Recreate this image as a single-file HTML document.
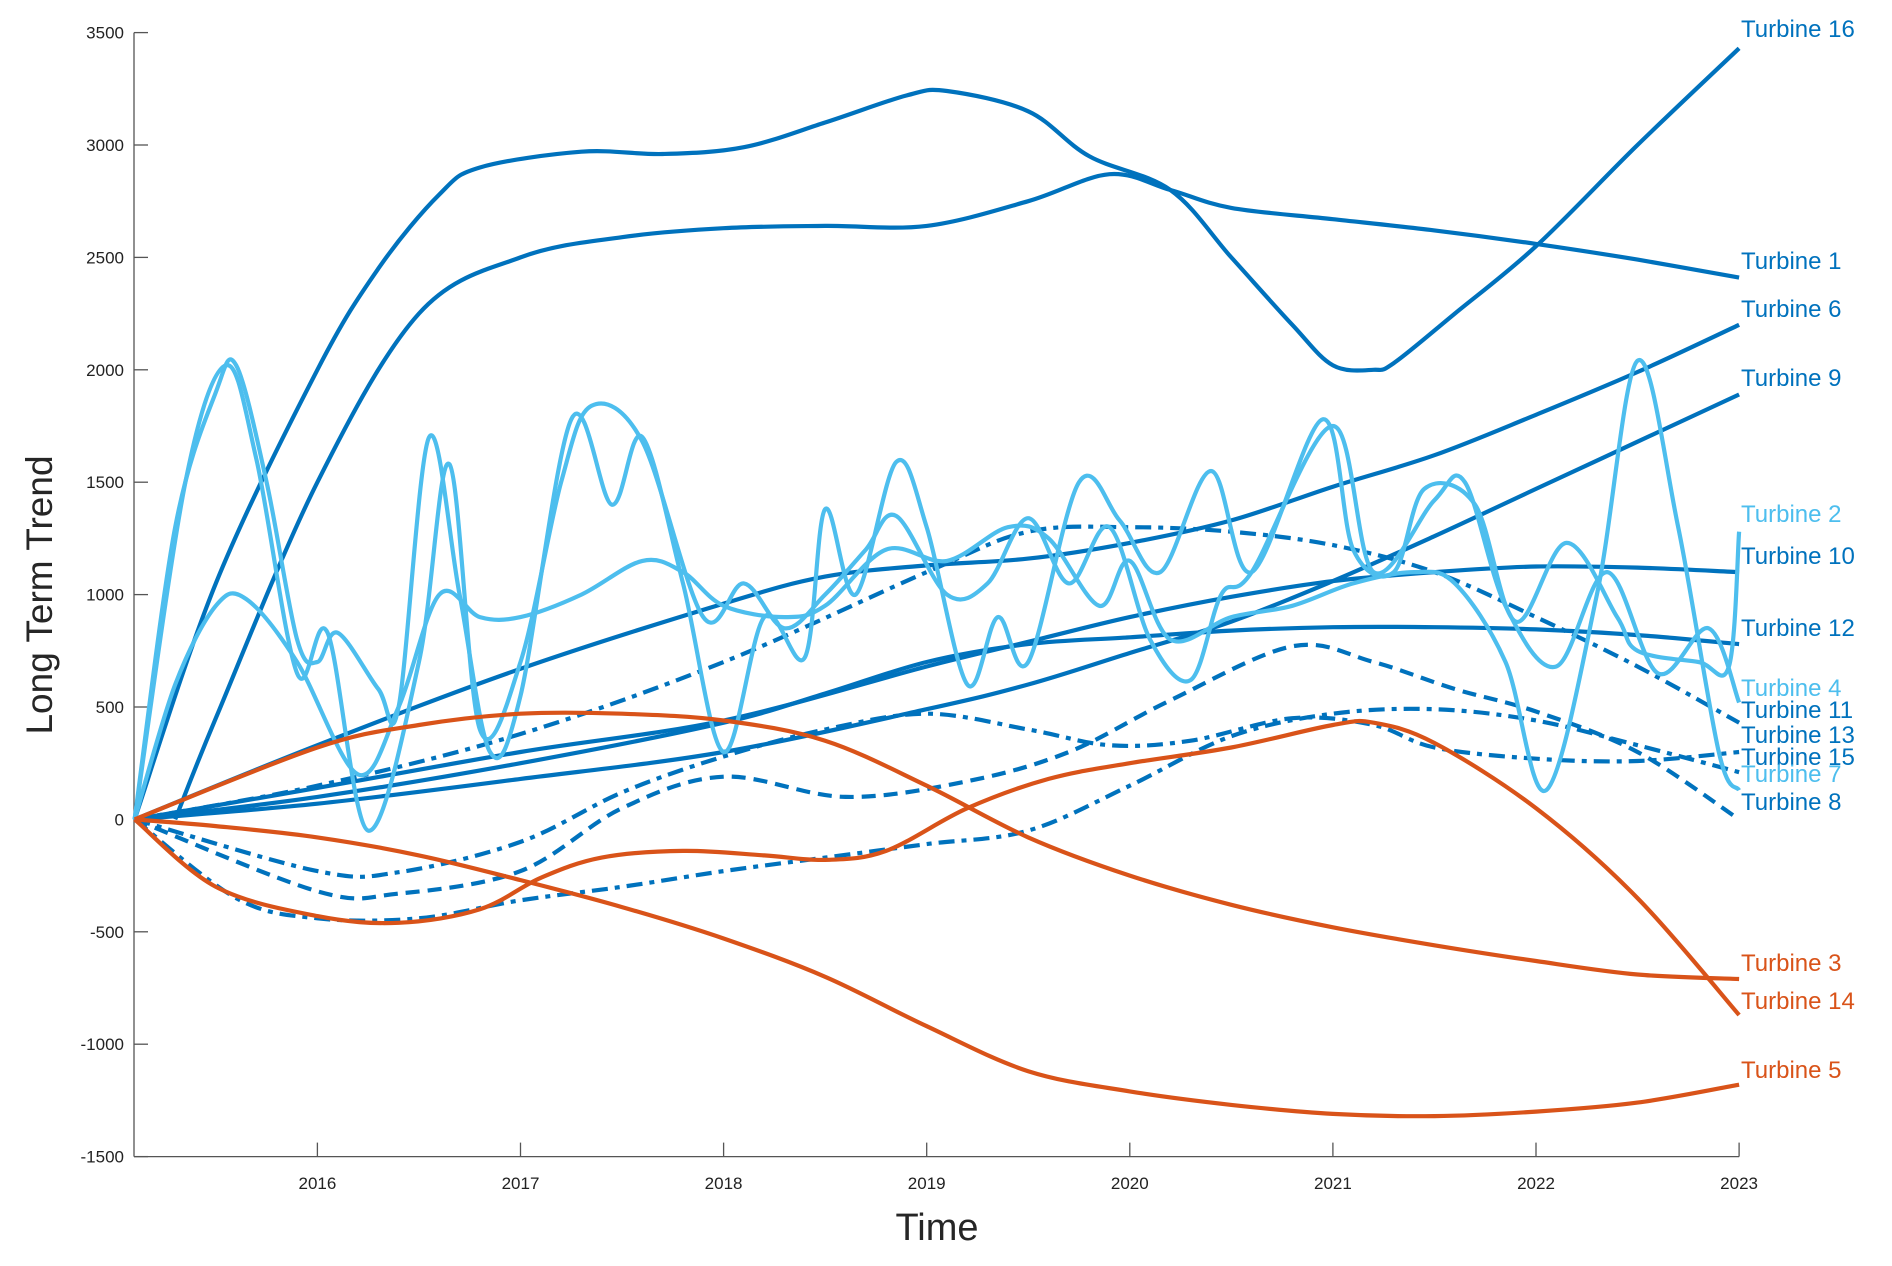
<!DOCTYPE html>
<html><head><meta charset="utf-8"><style>
html,body{margin:0;padding:0;background:#fff;}
svg text{font-family:"Liberation Sans",Arial,sans-serif;}
</style></head><body>
<svg id="chart" width="1892" height="1261" viewBox="0 0 1892 1261" xmlns="http://www.w3.org/2000/svg">
<g id="axes"></g>
<g id="series"></g>
<g id="labels"></g>
<text x="52" y="595" font-size="37" fill="#262626" text-anchor="middle" transform="rotate(-90 52 595)">Long Term Trend</text>
<text x="937" y="1240" font-size="38" fill="#262626" text-anchor="middle">Time</text>
</svg>
<script>
const xTicks = [2016,2017,2018,2019,2020,2021,2022,2023];
const yTicks = [-1500,-1000,-500,0,500,1000,1500,2000,2500,3000,3500];
const seriesNames = ["Turbine 16","Turbine 1","Turbine 6","Turbine 9","Turbine 2","Turbine 10","Turbine 12","Turbine 4","Turbine 11","Turbine 13","Turbine 15","Turbine 7","Turbine 8","Turbine 3","Turbine 14","Turbine 5"];
const t16X=[2015.1,2015.5,2016,2016.3,2016.6,2016.8,2017.3,2017.7,2018.1,2018.5,2018.9,2019.1,2019.5,2019.8,2020.2,2020.5,2020.8,2021.0,2021.2,2021.3,2021.6,2022.0,2022.5,2023];
const t16Y=[0,1050,2000,2450,2780,2900,2970,2960,2990,3100,3220,3240,3150,2950,2800,2500,2200,2020,2000,2030,2250,2550,3000,3430];
const t1X=[2015.3,2015.5,2016,2016.5,2017,2017.5,2018,2018.5,2019,2019.5,2019.9,2020.2,2020.5,2021,2021.5,2022,2022.5,2023];
const t1Y=[0,450,1500,2250,2500,2590,2630,2640,2640,2750,2870,2800,2720,2670,2620,2560,2490,2410];
const t6X=[2015.1,2016,2017,2018,2018.5,2019,2019.5,2020,2020.5,2021,2021.5,2022,2022.5,2023];
const t6Y=[0,330,670,960,1080,1130,1160,1230,1330,1480,1620,1800,1990,2200];
const t9X=[2015.1,2016,2017,2018,2019,2019.5,2020,2020.5,2021,2021.5,2022,2022.5,2023];
const t9Y=[0,70,180,300,490,600,740,880,1060,1260,1470,1680,1890];
const t10X=[2015.1,2016,2017,2018,2019,2019.5,2020,2020.5,2021,2021.5,2022,2022.5,2023];
const t10Y=[0,140,300,440,680,790,900,990,1060,1100,1125,1120,1100];
const t12X=[2015.1,2016,2017,2018,2018.5,2019,2019.5,2020,2020.5,2021,2021.5,2022,2022.5,2023];
const t12Y=[0,100,250,430,560,700,780,810,840,855,855,845,820,780];
const t11X=[2015.1,2016,2017,2018,2019,2019.5,2020,2020.5,2021,2021.5,2022,2022.5,2023];
const t11Y=[0,150,380,700,1100,1280,1300,1280,1220,1100,900,680,430];
const t13X=[2015.1,2015.6,2016,2016.5,2017,2017.5,2018,2018.5,2019,2019.5,2020,2020.5,2021,2021.5,2022,2022.5,2023];
const t13Y=[0,-350,-440,-440,-360,-300,-230,-170,-110,-50,150,370,470,490,440,330,210];
const t15X=[2015.1,2016,2016.4,2017,2017.5,2018,2018.5,2019,2019.5,2019.9,2020.3,2020.8,2021.2,2021.5,2022,2022.5,2023];
const t15Y=[0,-230,-235,-100,120,280,400,470,400,330,350,450,420,320,270,260,300];
const t8X=[2015.1,2016,2016.4,2017,2017.5,2018,2018.6,2019.2,2019.7,2020.2,2020.8,2021.2,2021.6,2022,2022.5,2023];
const t8Y=[0,-320,-330,-230,50,190,100,170,300,530,770,700,580,480,300,0];
const t3X=[2015.1,2016,2016.5,2017,2017.5,2018,2018.5,2019,2019.5,2020,2020.5,2021,2021.5,2022,2022.5,2023];
const t3Y=[0,320,420,470,470,440,350,150,-80,-250,-380,-480,-560,-630,-690,-710];
const t14X=[2015.1,2015.5,2016,2016.4,2016.8,2017.1,2017.4,2017.8,2018.2,2018.5,2018.8,2019.2,2019.6,2020,2020.5,2021,2021.2,2021.5,2022,2022.5,2023];
const t14Y=[0,-300,-430,-460,-400,-260,-170,-140,-160,-180,-140,50,180,250,320,420,430,340,50,-350,-870];
const t5X=[2015.1,2015.5,2016,2016.5,2017,2017.5,2018,2018.5,2019,2019.5,2020,2020.5,2021,2021.5,2022,2022.5,2023];
const t5Y=[0,-30,-80,-160,-270,-390,-530,-700,-920,-1120,-1210,-1270,-1310,-1320,-1300,-1260,-1180];
const t2X=[2015.1,2015.3,2015.5,2015.6,2015.75,2015.9,2016.0,2016.1,2016.3,2016.4,2016.55,2016.7,2016.85,2017.0,2017.25,2017.45,2017.6,2017.8,2018.0,2018.2,2018.4,2018.5,2018.65,2018.85,2019.0,2019.2,2019.35,2019.5,2019.75,2019.95,2020.15,2020.4,2020.6,2020.95,2021.1,2021.3,2021.45,2021.7,2021.9,2022.15,2022.4,2022.5,2022.8,2022.95,2023];
const t2Y=[0,1300,1900,2020,1500,800,700,830,580,500,1700,1000,300,550,1780,1400,1700,1050,300,900,720,1380,1000,1590,1300,600,900,700,1500,1330,1100,1550,1100,1780,1200,1100,1470,1400,880,1230,900,750,700,680,1280];
const t4X=[2015.1,2015.35,2015.55,2015.7,2015.9,2016.05,2016.25,2016.5,2016.65,2016.8,2017.0,2017.2,2017.35,2017.6,2017.9,2018.1,2018.3,2018.5,2018.7,2018.85,2019.1,2019.3,2019.5,2019.7,2019.9,2020.1,2020.3,2020.45,2020.6,2021.0,2021.2,2021.5,2021.65,2021.85,2022.1,2022.35,2022.6,2022.85,2023];
const t4Y=[0,1500,2020,1600,650,830,-50,700,1580,400,700,1500,1840,1680,900,1050,850,1000,1200,1350,1000,1050,1340,1050,1300,800,620,1000,1100,1750,1100,1420,1500,950,680,1100,650,850,520];
const t7X=[2015.1,2015.3,2015.5,2015.65,2015.9,2016.2,2016.4,2016.6,2016.8,2017.0,2017.3,2017.6,2017.8,2018.0,2018.3,2018.5,2018.8,2019.1,2019.4,2019.6,2019.85,2020.0,2020.2,2020.5,2020.8,2021.1,2021.4,2021.6,2021.85,2022.05,2022.3,2022.5,2022.7,2022.9,2023];
const t7Y=[0,600,950,980,700,200,500,1000,900,900,1000,1150,1100,950,900,950,1200,1150,1300,1250,950,1150,800,900,950,1050,1100,1050,700,130,1000,2040,1300,300,130];

const DARK="#0072BD", LIGHT="#4DBEEE", ORANGE="#D95319";
const SOLID="", DASHDOT="16 7 5 7", DASHED="14 8";
const seriesList=[
 ["turbine-16",t16X,t16Y,DARK,SOLID],["turbine-1",t1X,t1Y,DARK,SOLID],["turbine-6",t6X,t6Y,DARK,SOLID],
 ["turbine-9",t9X,t9Y,DARK,SOLID],["turbine-10",t10X,t10Y,DARK,SOLID],["turbine-12",t12X,t12Y,DARK,SOLID],
 ["turbine-11",t11X,t11Y,DARK,DASHDOT],["turbine-13",t13X,t13Y,DARK,DASHDOT],["turbine-15",t15X,t15Y,DARK,DASHDOT],
 ["turbine-8",t8X,t8Y,DARK,DASHED],["turbine-2",t2X,t2Y,LIGHT,SOLID],["turbine-4",t4X,t4Y,LIGHT,SOLID],
 ["turbine-7",t7X,t7Y,LIGHT,SOLID],["turbine-3",t3X,t3Y,ORANGE,SOLID],["turbine-14",t14X,t14Y,ORANGE,SOLID],["turbine-5",t5X,t5Y,ORANGE,SOLID]
];
const labelColors=[DARK,DARK,DARK,DARK,LIGHT,DARK,DARK,LIGHT,DARK,DARK,DARK,LIGHT,DARK,ORANGE,ORANGE,ORANGE];
const labelPos=[29,261,309,378,514,556,628,688,710,735,757,774,802,963,1001,1070];

const X0=2015.097, PX0=134, PXY=203.1, Y0=819.4, PYU=112.4/500;
const xs=v=>PX0+(v-X0)*PXY;
const ys=v=>Y0-v*PYU;
const NS="http://www.w3.org/2000/svg";
const axes=document.getElementById('axes');
function mk(tag,attrs,parent){const e=document.createElementNS(NS,tag);for(const k in attrs)e.setAttribute(k,attrs[k]);parent.appendChild(e);return e;}
const yAxis=mk('line',{x1:134,y1:ys(3500),x2:134,y2:ys(-1500),stroke:'#555','stroke-width':1.3},axes);


const xAxis=mk('line',{x1:134,y1:ys(-1500),x2:xs(2023),y2:ys(-1500),stroke:'#555','stroke-width':1.3},axes);


yTicks.forEach(v=>{
 const t=mk('line',{x1:134,y1:ys(v),x2:148,y2:ys(v),stroke:'#555','stroke-width':1.3},axes);
 
 
 const l=mk('text',{x:124,y:ys(v)+6,'font-size':17,'text-anchor':'end',fill:'#222'},axes);
 l.textContent=v;
 
 
});
xTicks.forEach(v=>{
 const t=mk('line',{x1:xs(v),y1:ys(-1500),x2:xs(v),y2:ys(-1500)-14,stroke:'#555','stroke-width':1.3},axes);
 
 
 const l=mk('text',{x:xs(v),y:1189,'font-size':17,'text-anchor':'middle',fill:'#222'},axes);
 l.textContent=v;
 
 
});
function pathD(X,Y){
 const p=X.map((x,i)=>[xs(x),ys(Y[i])]);
 let d=`M${p[0][0].toFixed(1)},${p[0][1].toFixed(1)}`;
 for(let i=0;i<p.length-1;i++){
  const p0=p[i-1]||p[i],p1=p[i],p2=p[i+1],p3=p[i+2]||p2;
  const c1=[p1[0]+(p2[0]-p0[0])/6,p1[1]+(p2[1]-p0[1])/6];
  const c2=[p2[0]-(p3[0]-p1[0])/6,p2[1]-(p3[1]-p1[1])/6];
  d+=` C${c1[0].toFixed(1)},${c1[1].toFixed(1)} ${c2[0].toFixed(1)},${c2[1].toFixed(1)} ${p2[0].toFixed(1)},${p2[1].toFixed(1)}`;
 }
 return d;
}
const sg=document.getElementById('series');
seriesList.forEach(s=>{
 const a={d:pathD(s[1],s[2]),fill:'none',stroke:s[3],'stroke-width':4.2,'stroke-linejoin':'round'};
 if(s[4])a['stroke-dasharray']=s[4];
 const e=mk('path',a,sg);
 
 
});
const lg=document.getElementById('labels');
seriesNames.forEach((n,i)=>{
 const t=mk('text',{x:1741,y:labelPos[i]+8,'font-size':24,fill:labelColors[i]},lg);
 t.textContent=n;
 
 
});
</script>
</body></html>
